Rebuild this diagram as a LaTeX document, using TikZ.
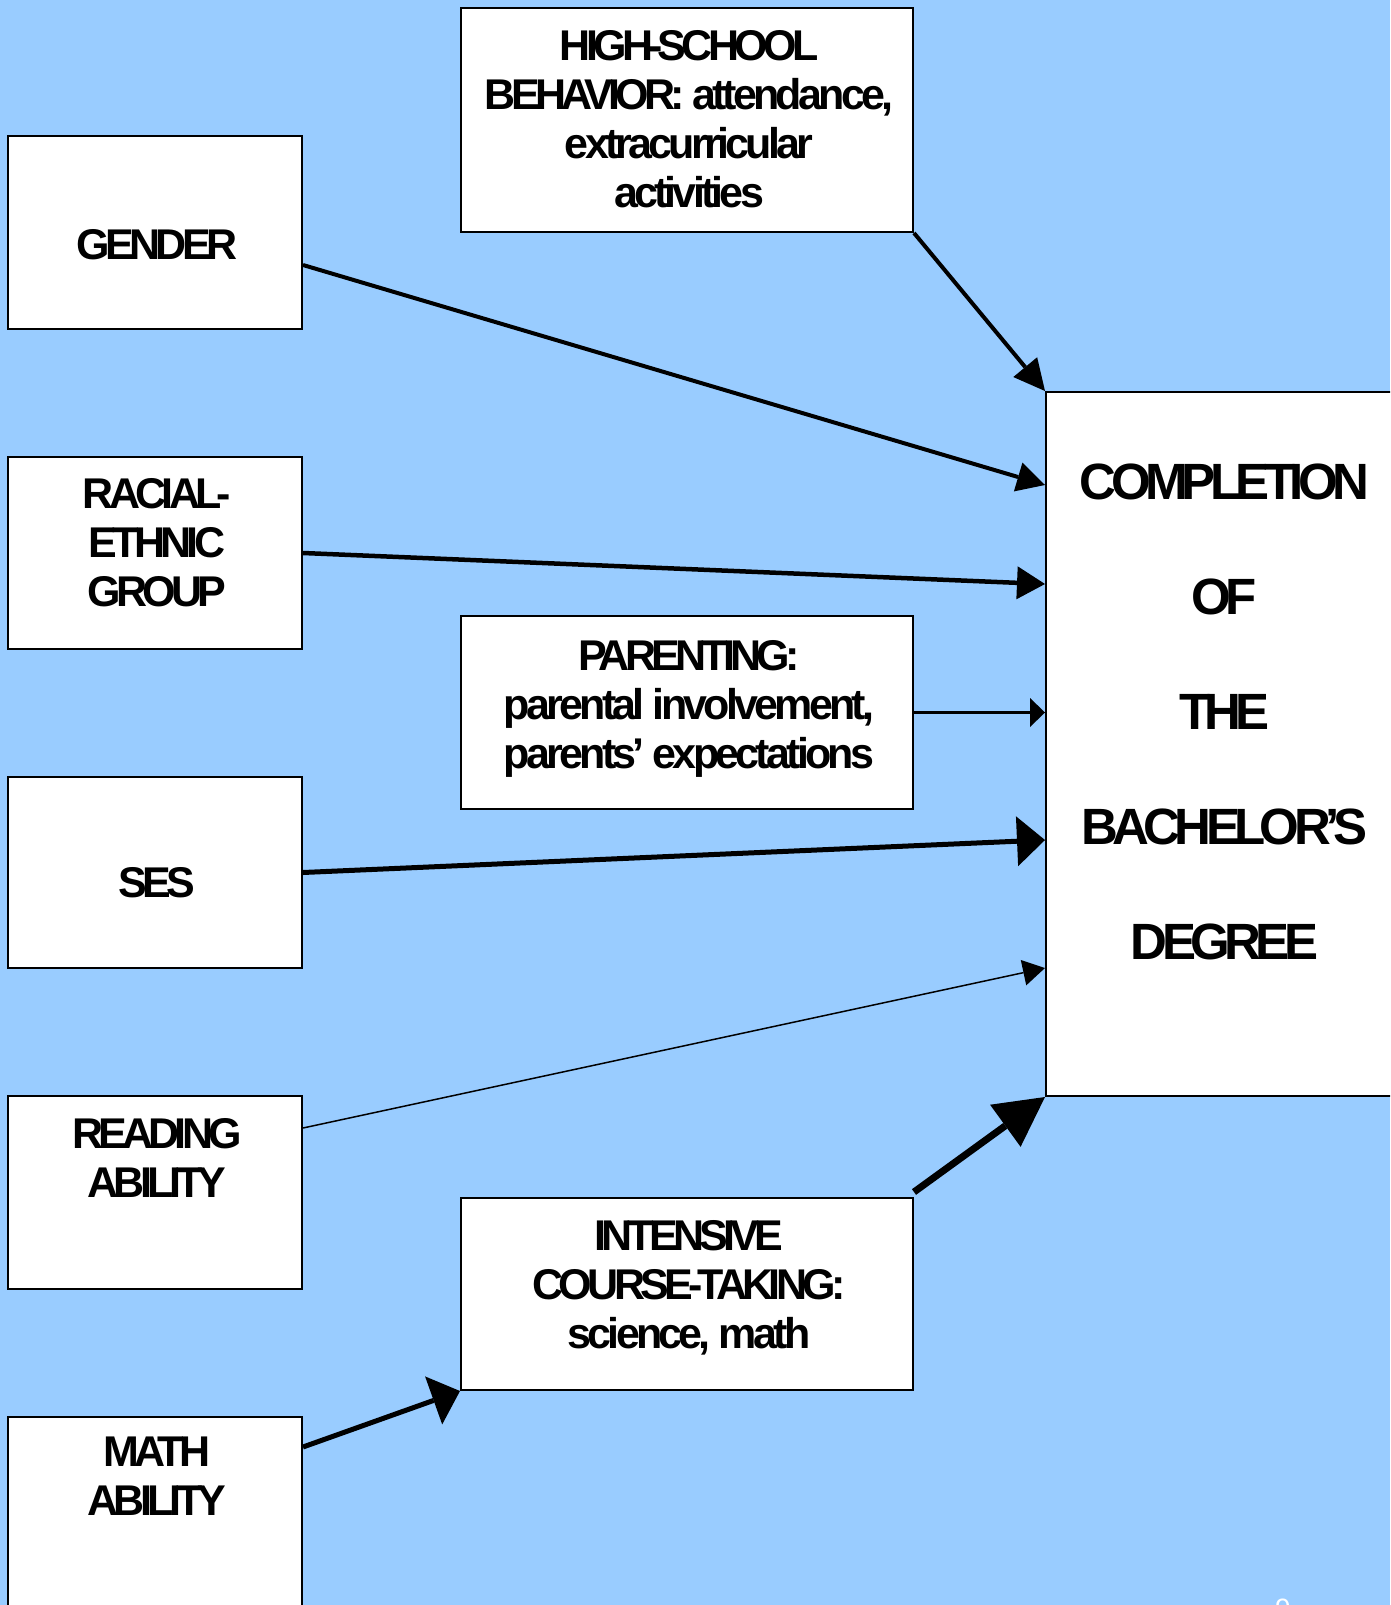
\documentclass[tikz,border=0pt]{standalone}
\usepackage{fontspec}
\setmainfont{Liberation Sans}
\newfontfamily\boxfont{Liberation Sans}[LetterSpace=-11]
\newfontfamily\lcfont{Liberation Sans}[LetterSpace=-8.8]
\newcommand\lc[1]{{\lcfont\bfseries #1}}
\usepackage{tikz}
\usetikzlibrary{calc,positioning,arrows.meta}
\definecolor{sky}{HTML}{99CCFF}
\definecolor{pagenr}{HTML}{FFFFFF}
\tikzset{
  box/.style={draw=black, fill=white, line width=2pt, inner sep=0pt},
  lab/.style={font=\boxfont\bfseries\fontsize{43}{49}\selectfont, align=center, inner sep=0pt, xshift=2pt},
  labbig/.style={font=\boxfont\bfseries\fontsize{51}{115}\selectfont, align=center, inner sep=0pt, xshift=3pt},
  arr/.style={draw=black, line cap=butt},
}

\begin{document}
\begin{tikzpicture}[x=1pt,y=-1pt]
  \useasboundingbox (0,0) rectangle (1390,1605);
  \clip (0,0) rectangle (1390,1605);
  \fill[sky] (0,0) rectangle (1390,1605);
  % left column: background factors
  \node[box, minimum width=294pt, minimum height=193pt] (gender) at (155,232.5) {};
  \node[box, minimum width=294pt, minimum height=192pt] (racial) at (155,553) {};
  \node[box, minimum width=294pt, minimum height=191pt] (ses) at (155,872.5) {};
  \node[box, minimum width=294pt, minimum height=193pt] (reading) at (155,1192.5) {};
  \node[box, minimum width=294pt, minimum height=193pt] (math) at (155,1513.5) {};
  \node[lab, below=94pt of gender.north] (gendertxt) {GENDER};
  \node[lab, below=22pt of racial.north] (racialtxt) {RACIAL-\\ETHNIC\\GROUP};
  \node[lab, below=91pt of ses.north] (sestxt) {SES};
  \node[lab, below=23pt of reading.north] (readingtxt) {READING\\ABILITY};
  \node[lab, below=21pt of math.north] (mathtxt) {MATH\\ABILITY};
  % middle column: school and family
  \node[box, minimum width=452pt, minimum height=224pt] (hs) at (687,120) {};
  \node[box, minimum width=452pt, minimum height=193pt] (parent) at (687,712.5) {};
  \node[box, minimum width=452pt, minimum height=192pt] (course) at (687,1294) {};
  \node[lab, below=23pt of hs.north] (hstxt) {HIGH-SCHOOL\\BEHAVIOR: \lc{attendance,}\\\lc{extracurricular}\\\lc{activities}};
  \node[lab, below=25pt of parent.north] (parenttxt) {PARENTING:\\\lc{parental involvement,}\\\lc{parents’ expectations}};
  \node[lab, below=23pt of course.north] (coursetxt) {INTENSIVE\\COURSE-TAKING:\\\lc{science, math}};
  % outcome
  \node[box, minimum width=351pt, minimum height=704pt] (degree) at (1221.5,744) {};
  \node[labbig, below=73pt of degree.north] (degreetxt) {COMPLETION\\OF\\THE\\BACHELOR’S\\DEGREE};
  % paths
  \draw[arr, line width=4pt, -{Triangle[length=31pt,width=31pt,line width=0pt]}] (hs.south east) -- (degree.north west);
  \draw[arr, line width=4pt, -{Triangle[length=28pt,width=30pt,line width=0pt]}] ($(gender.east)+(0,32.5)$) -- ($(degree.west)+(0,-259)$);
  \draw[arr, line width=4.5pt, -{Triangle[length=28pt,width=33pt,line width=0pt]}] (racial.east) -- ($(degree.west)+(0,-160)$);
  \draw[arr, line width=3pt, -{Triangle[length=15pt,width=29pt,line width=0pt]}] (parent.east) -- (parent.east -| degree.west);
  \draw[arr, line width=5pt, -{Triangle[length=28pt,width=50pt,line width=0pt]}] (ses.east) -- ($(degree.west)+(0,96)$);
  \draw[arr, line width=1.5pt, -{Triangle[length=22pt,width=26pt,line width=0pt]}] ($(reading.east)+(0,-64.5)$) -- ($(degree.west)+(0,224)$);
  \draw[arr, line width=7pt, -{Triangle[length=49pt,width=52pt,line width=0pt]}] ($(course.north east)+(0,-5)$) -- (degree.south west);
  \draw[arr, line width=5pt, -{Triangle[length=28pt,width=51pt,line width=0pt]}] ($(math.east)+(0,-66.5)$) -- (course.south west);
  \node[text=pagenr, font=\fontsize{28}{30}\selectfont, anchor=north, inner sep=0pt] (pagenum) at (1283,1599) {9};
\end{tikzpicture}
\end{document}
